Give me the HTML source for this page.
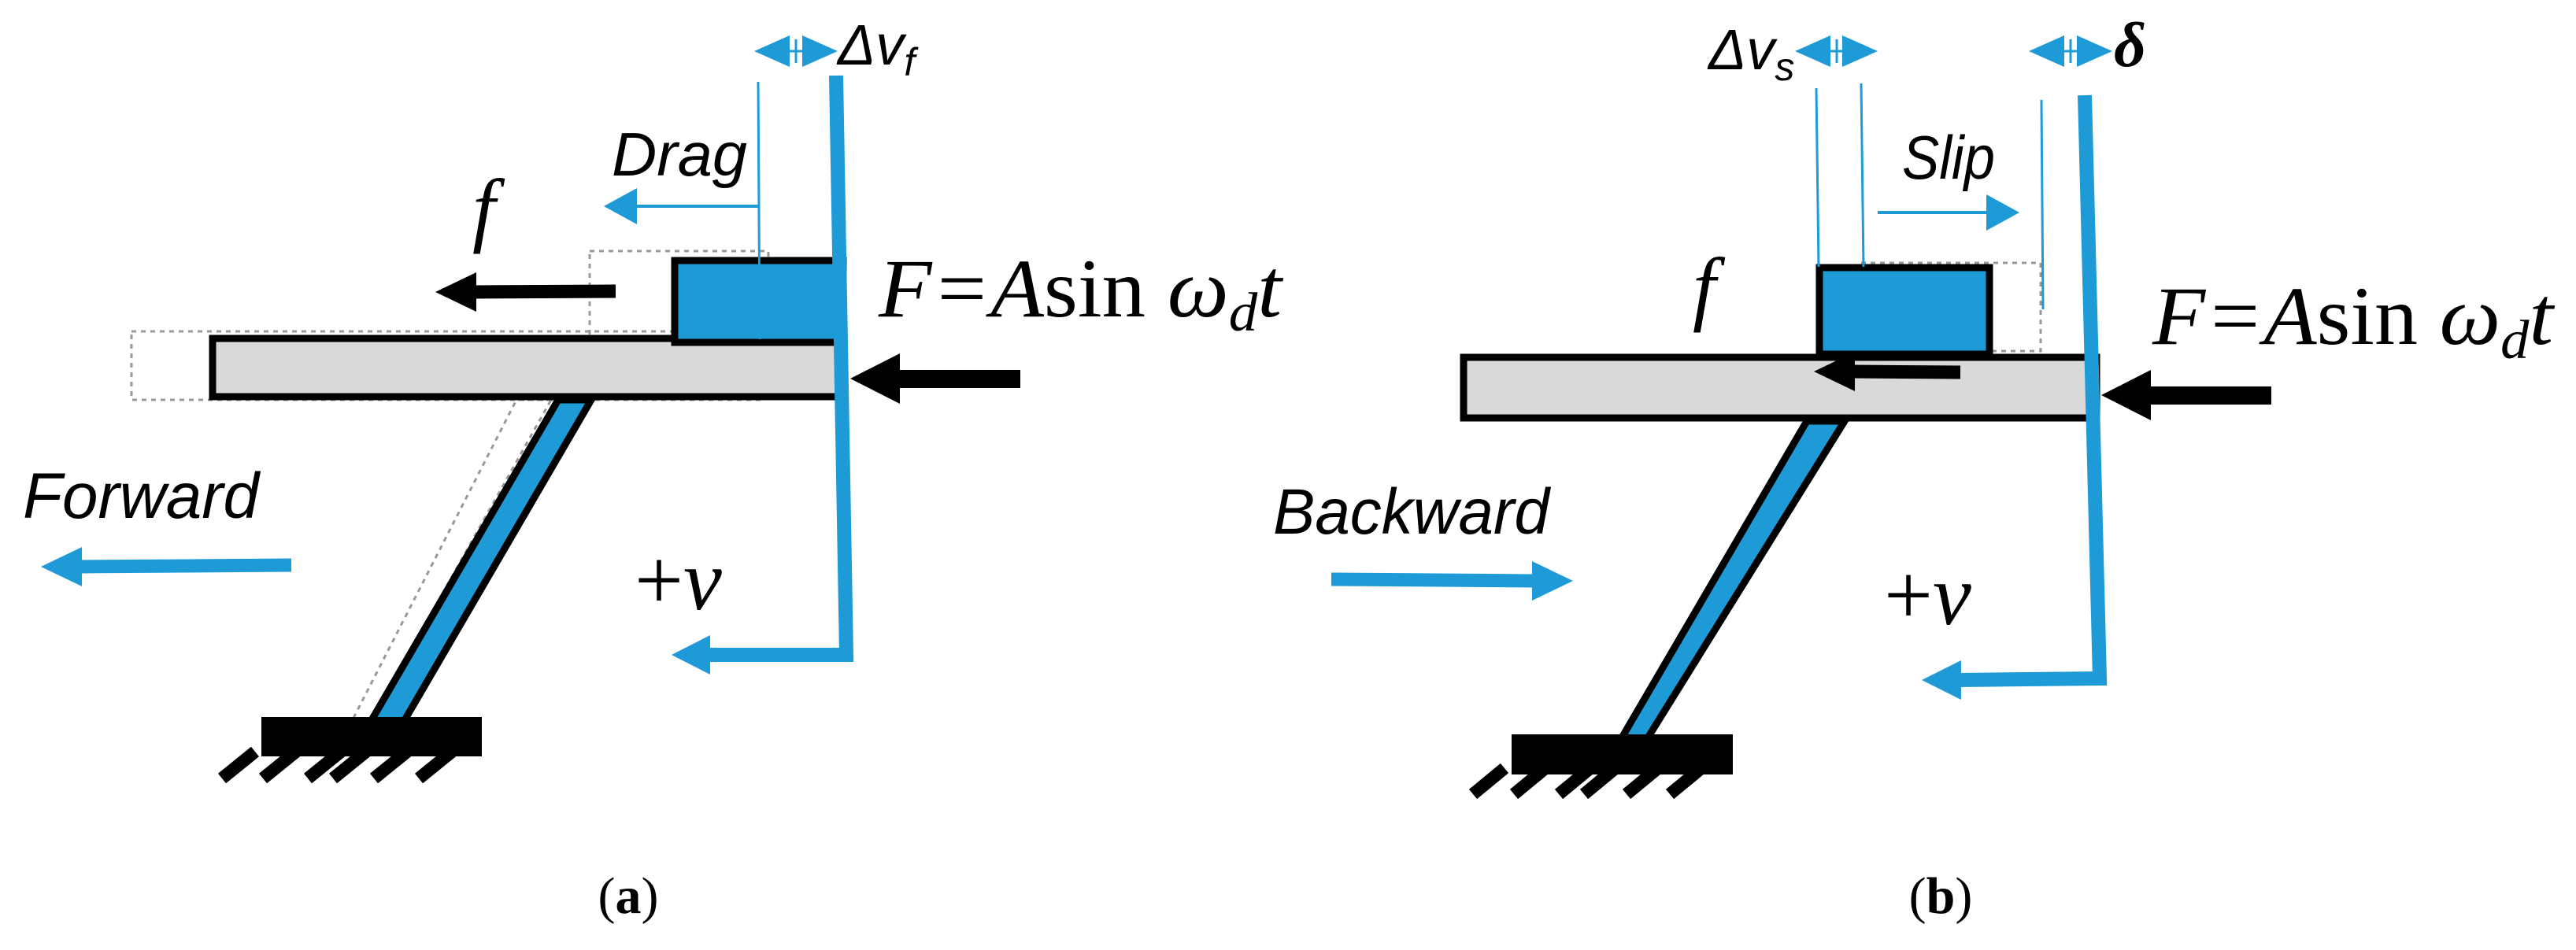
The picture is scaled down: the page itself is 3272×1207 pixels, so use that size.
<!DOCTYPE html>
<html><head><meta charset="utf-8"><style>
html,body{margin:0;padding:0;background:#fff;}
svg{display:block;}
.sans{font-family:"Liberation Sans",sans-serif;font-style:italic;}
.serif{font-family:"Liberation Serif",serif;}
</style></head><body>
<svg width="3272" height="1207" viewBox="0 0 3272 1207" xmlns="http://www.w3.org/2000/svg">
<!-- ===== Panel (a) ===== -->
<g fill="none" stroke="#999" stroke-width="3" stroke-dasharray="6,6">
<rect x="167" y="421" width="800" height="87"/>
<rect x="749" y="319" width="227" height="120"/>
<polygon points="700,508 656,508 445,920 469,920"/>
</g>
<rect x="270" y="430" width="801" height="74" fill="#d9d9d9" stroke="#000" stroke-width="9"/>
<rect x="857" y="331" width="214" height="104" fill="#1e9bd7" stroke="#000" stroke-width="9"/>
<polygon points="709,508 751,508 511,920 469,920" fill="#1e9bd7" stroke="#000" stroke-width="9"/>
<rect x="332" y="911" width="280" height="50" fill="#000"/>
<g stroke="#000" stroke-width="16">
<line x1="282" y1="989" x2="324" y2="955"/>
<line x1="334" y1="989" x2="376" y2="955"/>
<line x1="391" y1="989" x2="433" y2="955"/>
<line x1="423" y1="989" x2="465" y2="955"/>
<line x1="475" y1="989" x2="517" y2="955"/>
<line x1="532" y1="989" x2="574" y2="955"/>
</g>
<line x1="963" y1="104" x2="965" y2="431" stroke="#1e9bd7" stroke-width="3"/>
<line x1="963" y1="262" x2="800" y2="262" stroke="#1e9bd7" stroke-width="4"/>
<polygon points="767,262 809,239 809,285" fill="#1e9bd7"/>
<line x1="990" y1="65" x2="1030" y2="65" stroke="#1e9bd7" stroke-width="3"/>
<line x1="1011" y1="50" x2="1011" y2="80" stroke="#1e9bd7" stroke-width="3"/>
<polygon points="958,65 1003,45 1003,85" fill="#1e9bd7"/>
<polygon points="1064,65 1019,45 1019,85" fill="#1e9bd7"/>
<polyline points="1062,96 1075,832 900,832" fill="none" stroke="#1e9bd7" stroke-width="18"/>
<polygon points="853,832 902,807 902,857" fill="#1e9bd7"/>
<line x1="782" y1="370" x2="600" y2="371" stroke="#000" stroke-width="17"/>
<polygon points="553,371 605,346 605,396" fill="#000"/>
<rect x="1135" y="470" width="161" height="23" fill="#000"/>
<polygon points="1080,481 1143,449 1143,513" fill="#000"/>
<line x1="370" y1="718" x2="100" y2="720" stroke="#1e9bd7" stroke-width="17"/>
<polygon points="52,720 104,695 104,745" fill="#1e9bd7"/>
<text x="1064" y="82" class="sans" font-size="72">Δv<tspan font-size="50" dy="14">f</tspan></text>
<text x="777" y="223" class="sans" font-size="78" textLength="172" lengthAdjust="spacingAndGlyphs">Drag</text>
<text x="600" y="300" class="serif" font-style="italic" font-size="105">f</text>
<text x="1116" y="402" class="serif" font-style="italic" font-size="106" textLength="512" lengthAdjust="spacingAndGlyphs">F=A<tspan font-style="normal">sin</tspan> ω<tspan font-size="70" dy="18">d</tspan><tspan dy="-18">t</tspan></text>
<text x="29" y="658" class="sans" font-size="82" textLength="300" lengthAdjust="spacingAndGlyphs">Forward</text>
<text x="806" y="774" class="serif" font-size="110">+<tspan font-style="italic">v</tspan></text>
<text x="798" y="1160" class="serif" font-size="66" text-anchor="middle">(<tspan font-weight="bold">a</tspan>)</text>

<!-- ===== Panel (b) ===== -->
<g fill="none" stroke="#999" stroke-width="3" stroke-dasharray="6,6">
<rect x="2364" y="334" width="228" height="112"/>
</g>
<rect x="1859" y="454" width="804" height="77" fill="#d9d9d9" stroke="#000" stroke-width="9"/>
<rect x="2311" y="340" width="216" height="110" fill="#1e9bd7" stroke="#000" stroke-width="9"/>
<polygon points="2295,535 2343,535 2092,939 2059,939" fill="#1e9bd7" stroke="#000" stroke-width="9"/>
<rect x="1920" y="933" width="281" height="51" fill="#000"/>
<g stroke="#000" stroke-width="16">
<line x1="1871" y1="1009" x2="1911" y2="976"/>
<line x1="1923" y1="1009" x2="1963" y2="976"/>
<line x1="1980" y1="1009" x2="2020" y2="976"/>
<line x1="2012" y1="1009" x2="2052" y2="976"/>
<line x1="2066" y1="1009" x2="2106" y2="976"/>
<line x1="2121" y1="1009" x2="2161" y2="976"/>
</g>
<g stroke="#1e9bd7" stroke-width="3">
<line x1="2307" y1="112" x2="2310" y2="339"/>
<line x1="2364" y1="106" x2="2367" y2="339"/>
<line x1="2593" y1="127" x2="2595" y2="393"/>
</g>
<line x1="2385" y1="270" x2="2530" y2="270" stroke="#1e9bd7" stroke-width="4"/>
<polygon points="2565,270 2523,247 2523,293" fill="#1e9bd7"/>
<line x1="2310" y1="65" x2="2355" y2="65" stroke="#1e9bd7" stroke-width="3"/>
<line x1="2333" y1="50" x2="2333" y2="80" stroke="#1e9bd7" stroke-width="3"/>
<polygon points="2280,65 2325,45 2325,85" fill="#1e9bd7"/>
<polygon points="2385,65 2340,45 2340,85" fill="#1e9bd7"/>
<line x1="2607" y1="65" x2="2653" y2="65" stroke="#1e9bd7" stroke-width="3"/>
<line x1="2630" y1="50" x2="2630" y2="80" stroke="#1e9bd7" stroke-width="3"/>
<polygon points="2577,65 2622,45 2622,85" fill="#1e9bd7"/>
<polygon points="2683,65 2638,45 2638,85" fill="#1e9bd7"/>
<polyline points="2648,121 2667,862 2490,864" fill="none" stroke="#1e9bd7" stroke-width="18"/>
<polygon points="2441,864 2491,839 2491,889" fill="#1e9bd7"/>
<line x1="2490" y1="473" x2="2350" y2="472" stroke="#000" stroke-width="17"/>
<polygon points="2304,472 2356,447 2356,497" fill="#000"/>
<rect x="2724" y="491" width="161" height="23" fill="#000"/>
<polygon points="2669,502 2732,470 2732,534" fill="#000"/>
<line x1="1691" y1="736" x2="1950" y2="738" stroke="#1e9bd7" stroke-width="17"/>
<polygon points="1998,738 1946,713 1946,763" fill="#1e9bd7"/>
<text x="2170" y="88" class="sans" font-size="72">Δv<tspan font-size="50" dy="14">s</tspan></text>
<text x="2685" y="84" class="serif" font-style="italic" font-weight="bold" font-size="80">δ</text>
<text x="2416" y="227" class="sans" font-size="78" textLength="118" lengthAdjust="spacingAndGlyphs">Slip</text>
<text x="2150" y="400" class="serif" font-style="italic" font-size="105">f</text>
<text x="2734" y="437" class="serif" font-style="italic" font-size="106" textLength="509" lengthAdjust="spacingAndGlyphs">F=A<tspan font-style="normal">sin</tspan> ω<tspan font-size="70" dy="18">d</tspan><tspan dy="-18">t</tspan></text>
<text x="1617" y="678" class="sans" font-size="82" textLength="351" lengthAdjust="spacingAndGlyphs">Backward</text>
<text x="2393" y="793" class="serif" font-size="110">+<tspan font-style="italic">v</tspan></text>
<text x="2465" y="1160" class="serif" font-size="66" text-anchor="middle">(<tspan font-weight="bold">b</tspan>)</text>
</svg>
</body></html>
